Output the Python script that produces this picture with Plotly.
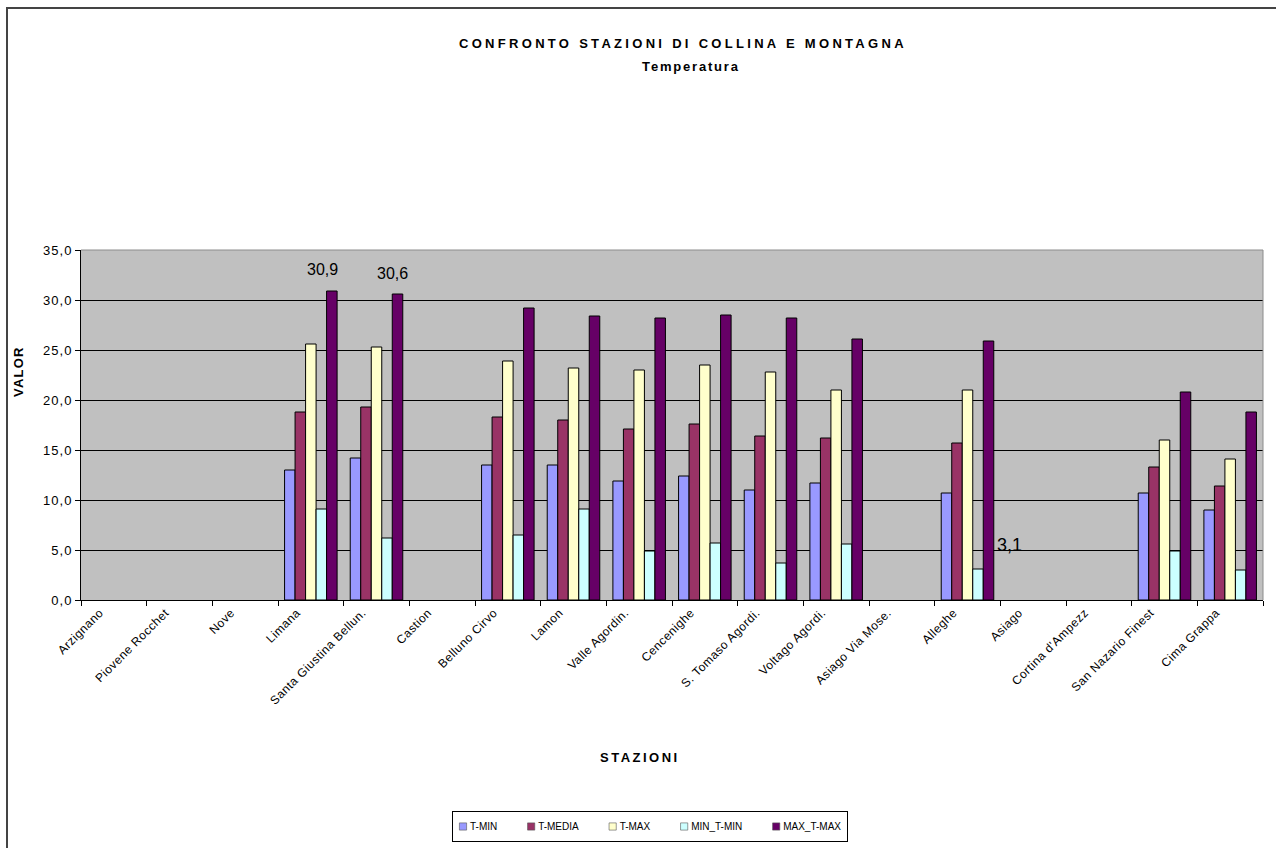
import plotly.graph_objects as go

# Stations (axis categories, as labelled on the sheet)
stations = ["Arzignano", "Piovene Rocchet", "Nove", "Limana", "Santa Giustina Bellun.",
            "Castion", "Belluno Cirvo", "Lamon", "Valle Agordin.", "Cencenighe",
            "S. Tomaso Agordi.", "Voltago Agordi.", "Asiago Via Mose.", "Alleghe",
            "Asiago", "Cortina d'Ampezz", "San Nazario Finest", "Cima Grappa"]

N = None
t_min =     [N, N, N, 13.0, 14.2, N, 13.5, 13.5, 11.9, 12.4, 11.0, 11.7, N, 10.7, N, N, 10.7, 9.0]
t_media =   [N, N, N, 18.8, 19.3, N, 18.3, 18.0, 17.1, 17.6, 16.4, 16.2, N, 15.7, N, N, 13.3, 11.4]
t_max =     [N, N, N, 25.6, 25.3, N, 23.9, 23.2, 23.0, 23.5, 22.8, 21.0, N, 21.0, N, N, 16.0, 14.1]
min_t_min = [N, N, N, 9.1, 6.2, N, 6.5, 9.1, 4.9, 5.7, 3.7, 5.6, N, 3.1, N, N, 4.9, 3.0]
max_t_max = [N, N, N, 30.9, 30.6, N, 29.2, 28.4, 28.2, 28.5, 28.2, 26.1, N, 25.9, N, N, 20.8, 18.8]

series_names = ["T-MIN", "T-MEDIA", "T-MAX", "MIN_T-MIN", "MAX_T-MAX"]
series_values = [t_min, t_media, t_max, min_t_min, max_t_max]
series_colors = ["#9999FF", "#993366", "#FFFFCC", "#CCFFFF", "#660066"]

W, H = 1276, 848
L, R, T, B = 81, 13, 250, 248
PW, PH = W - L - R, H - T - B


def px(x):
    return (x - L) / PW


def py(y):
    return (H - B - y) / PH


FONT = "Liberation Sans, Arial, sans-serif"

fig = go.Figure()
for name, vals, col in zip(series_names, series_values, series_colors):
    fig.add_trace(go.Bar(
        x=stations, y=vals, name=name,
        marker=dict(color=col, line=dict(color="#000000", width=1)),
    ))

annotations = [
    dict(text="<b>CONFRONTO STAZIONI DI COLLINA E MONTAGNA</b>", x=px(683), y=py(43),
         font=dict(size=13)),
    dict(text="<b>Temperatura</b>", x=px(691), y=py(67), font=dict(size=13)),
    dict(text="<b>STAZIONI</b>", x=px(640), y=py(757), font=dict(size=13)),
    dict(text="<b>VALOR</b>", x=px(18), y=py(372), textangle=-90, font=dict(size=13)),
]
for a in annotations:
    a.update(xref="paper", yref="paper", showarrow=False,
             xanchor="center", yanchor="middle")
    a["font"].update(family=FONT, color="#000000")

# Data labels on selected bars
labels = [("Limana", 30.9, 12, 22, 16),
          ("Santa Giustina Bellun.", 30.6, 16, 21, 16),
          ("Alleghe", 3.1, 42, 24, 18)]
for cat, val, dx, dy, fs in labels:
    annotations.append(dict(
        x=cat, y=val, xref="x", yref="y", text=f"{val:.1f}".replace(".", ","),
        showarrow=False, xshift=dx, yshift=dy, xanchor="center", yanchor="middle",
        font=dict(family=FONT, size=fs, color="#000000"),
    ))

shapes = [
    # chart area frame (left and top edges)
    dict(type="line", xref="paper", yref="paper", x0=px(7), x1=px(7), y0=py(H + 5), y1=py(8),
         line=dict(color="#444444", width=2)),
    dict(type="line", xref="paper", yref="paper", x0=px(6), x1=px(W + 5), y0=py(8), y1=py(8),
         line=dict(color="#444444", width=2)),
    # plot area border, top and right
    dict(type="line", xref="paper", yref="paper", x0=0, x1=1, y0=1, y1=1, layer="above",
         line=dict(color="#8C8C8C", width=1)),
    dict(type="line", xref="paper", yref="paper", x0=1, x1=1, y0=0, y1=1, layer="above",
         line=dict(color="#8C8C8C", width=1)),
]

fig.update_layout(
    width=W, height=H, autosize=False,
    margin=dict(l=L, r=R, t=T, b=B, pad=0),
    paper_bgcolor="#FFFFFF", plot_bgcolor="#C0C0C0",
    barmode="group", bargap=0.2, bargroupgap=0,
    separators=",.",
    font=dict(family=FONT, color="#000000"),
    showlegend=True,
    legend=dict(orientation="h", xref="container", yref="container",
                x=452 / W, y=1 - 811 / H, xanchor="left", yanchor="top",
                bgcolor="#FFFFFF", bordercolor="#000000", borderwidth=1,
                font=dict(family=FONT, size=10, color="#000000"),
                itemwidth=30, tracegroupgap=0),
    annotations=annotations,
    shapes=shapes,
)

fig.update_xaxes(
    type="category", categoryorder="array", categoryarray=stations,
    tickangle=-45, tickson="boundaries", ticks="outside", ticklen=5,
    tickcolor="#000000", showline=True, linecolor="#000000", linewidth=1,
    showgrid=False, tickfont=dict(family=FONT, size=12, color="#000000"),
    ticklabelshift=-14, automargin=False,
)
fig.update_yaxes(
    range=[0, 35], dtick=5, tickformat=".1f", ticks="outside", ticklen=5,
    tickcolor="#000000", showline=True, linecolor="#000000", linewidth=1,
    showgrid=True, gridcolor="#000000", gridwidth=1, zeroline=False,
    tickfont=dict(family=FONT, size=13, color="#000000"), automargin=False,
)

# Spread letters a little and pack the legend entries more tightly
post = """
var st = document.createElement('style');
st.textContent = '.xtick text{letter-spacing:0.5px} .ytick text{letter-spacing:1px}';
document.head.appendChild(st);
var spacing = {'CONFRONTO STAZIONI DI COLLINA E MONTAGNA': '3.3px', 'Temperatura': '1.8px',
               'STAZIONI': '2.5px', 'VALOR': '1.2px'};
document.querySelectorAll('text.annotation-text').forEach(function(t){
  var k = t.textContent.trim();
  if (spacing[k]) { t.style.letterSpacing = spacing[k]; }
});
var leg = document.querySelector('g.legend');
if (leg) {
  var items = leg.querySelectorAll('g.traces');
  var widths = [], sum = 0;
  items.forEach(function(it){
    var w = it.querySelector('text.legendtext').getComputedTextLength();
    widths.push(w); sum += w;
  });
  var boxW = 396, padL = 7, sq = 11;
  var gap = (boxW - 2 * padL - items.length * sq - sum) / (items.length - 1);
  var x = padL;
  items.forEach(function(it, i){
    var m = /translate\\(([-\\d.]+)[ ,]+([-\\d.]+)\\)/.exec(it.getAttribute('transform') || '');
    var y = m ? m[2] : 0;
    it.setAttribute('transform', 'translate(' + x + ',' + y + ')');
    it.querySelectorAll('.legendpoints path').forEach(function(p){
      p.setAttribute('transform', 'translate(4,0) scale(0.6)');
      p.style.stroke = '#555555';
    });
    it.querySelector('text.legendtext').setAttribute('x', sq);
    x += sq + widths[i] + gap;
  });
  var bg = leg.querySelector('rect.bg');
  if (bg) { bg.setAttribute('width', boxW - 1); }
}
"""

fig.write_html("out.html", post_script=post)
